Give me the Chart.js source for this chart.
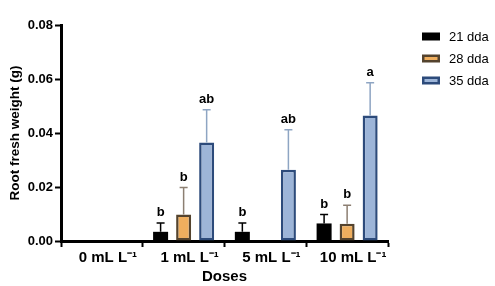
<!DOCTYPE html>
<html>
<head>
<meta charset="utf-8">
<script src="https://cdn.jsdelivr.net/npm/chart.js@4.4.1/dist/chart.umd.min.js"></script>
<style>
  html, body { margin: 0; padding: 0; background: #ffffff; }
  #wrap { width: 495px; height: 286px; position: relative; }
</style>
</head>
<body>
<div id="wrap"><canvas id="c" width="495" height="286"></canvas></div>
<script>
// ---- data ----
const categories = ["0 mL L\u207B\u00B9", "1 mL L\u207B\u00B9", "5 mL L\u207B\u00B9", "10 mL L\u207B\u00B9"];
const seriesNames = ["21 dda", "28 dda", "35 dda"];
const values21 = [0, 0.0034, 0.0034, 0.0065];
const values28 = [0, 0.0098, 0, 0.0064];
const values35 = [0, 0.0365, 0.0264, 0.0465];
const errors21 = [0, 0.0033, 0.0033, 0.0033];
const errors28 = [0, 0.0100, 0, 0.0068];
const errors35 = [0, 0.0121, 0.0148, 0.0121];
const letters21 = ["", "b", "b", "b"];
const letters28 = ["", "b", "", "b"];
const letters35 = ["", "ab", "ab", "a"];
const yTicks = [0, 0.02, 0.04, 0.06, 0.08];

const FONT = "'Liberation Sans', Arial, Helvetica, sans-serif";

const styles = [
  { fill: "#000000", border: "#000000", err: "#000000" },
  { fill: "#EFAE5E", border: "#54432E", err: "#8C7F72" },
  { fill: "#9DB5D8", border: "#2D4B7B", err: "#8EA5C3" }
];
const allValues = [values21, values28, values35];
const allErrors = [errors21, errors28, errors35];
const allLetters = [letters21, letters28, letters35];

const datasets = seriesNames.map((n, i) => ({
  label: n,
  data: allValues[i],
  backgroundColor: styles[i].fill,
  borderColor: styles[i].border,
  borderWidth: i === 0 ? 0 : 2.5,
  borderSkipped: false,
  categoryPercentage: 0.845,
  barPercentage: 0.652
}));

const errPlugin = {
  id: "errbars",
  afterDatasetsDraw(chart) {
    const ctx = chart.ctx;
    const ys = chart.scales.y;
    ctx.save();
    chart.data.datasets.forEach((ds, di) => {
      const meta = chart.getDatasetMeta(di);
      meta.data.forEach((bar, i) => {
        const v = allValues[di][i];
        const e = allErrors[di][i];
        const x = bar.x;
        const yb = ys.getPixelForValue(v);
        const yt = ys.getPixelForValue(v + e);
        if (e > 0) {
          ctx.strokeStyle = styles[di].err;
          ctx.lineWidth = 1.5;
          ctx.beginPath();
          ctx.moveTo(x, yb);
          ctx.lineTo(x, yt);
          ctx.moveTo(x - 4, yt);
          ctx.lineTo(x + 4, yt);
          ctx.stroke();
        }
        const L = allLetters[di][i];
        if (L) {
          ctx.fillStyle = "#000";
          ctx.font = "bold 13px " + FONT;
          ctx.textAlign = "center";
          ctx.textBaseline = "alphabetic";
          ctx.fillText(L, x, yt - 7);
        }
      });
    });
    ctx.restore();
  },
  afterDraw(chart) {
    // legend
    const ctx = chart.ctx;
    ctx.save();
    const x0 = 422, y0 = 36.5, dy = 22;
    chart.data.datasets.forEach((ds, i) => {
      const y = y0 + i * dy;
      ctx.fillStyle = styles[i].border;
      ctx.fillRect(x0, y - 4, 18, 8);
      if (i > 0) {
        ctx.fillStyle = styles[i].fill;
        ctx.fillRect(x0 + 2.5, y - 1.5, 13, 3);
      }
      ctx.fillStyle = "#000";
      ctx.font = "13px " + FONT;
      ctx.textAlign = "left";
      ctx.textBaseline = "middle";
      ctx.fillText(ds.label, x0 + 27, y + 0.5);
    });
    ctx.restore();
  }
};

new Chart(document.getElementById("c"), {
  type: "bar",
  data: { labels: categories, datasets },
  plugins: [errPlugin],
  options: {
    responsive: false,
    animation: false,
    devicePixelRatio: 1,
    layout: { padding: { left: 7, right: 107, top: 25, bottom: 0 } },
    plugins: { legend: { display: false }, tooltip: { enabled: false } },
    scales: {
      x: {
        afterFit: s => { s.height = 45; },
        grid: { display: true, drawOnChartArea: false, drawTicks: true, tickLength: 6, tickWidth: 2, tickColor: "#000" },
        border: { display: true, color: "#000", width: 3 },
        ticks: { color: "#000", font: { family: FONT, size: 15, weight: "bold" }, padding: 2, labelOffset: 6, maxRotation: 0, autoSkip: false },
        title: { display: true, text: "Doses", color: "#000", font: { family: FONT, size: 15, weight: "bold" }, padding: 0 }
      },
      y: {
        min: 0, max: 0.08,
        afterFit: s => { s.width = 54; },
        afterBuildTicks: s => { s.ticks = yTicks.map(v => ({ value: v })); },
        grid: { display: true, drawOnChartArea: false, drawTicks: true, tickLength: 6, tickWidth: 2, tickColor: "#000" },
        border: { display: true, color: "#000", width: 3 },
        ticks: { color: "#000", font: { family: FONT, size: 13, weight: "bold" }, padding: 2, callback: v => Number(v).toFixed(2) },
        title: { display: true, text: "Root fresh weight (g)", color: "#000", font: { family: FONT, size: 13.5, weight: "bold" }, padding: 0 }
      }
    }
  }
});
</script>
</body>
</html>
